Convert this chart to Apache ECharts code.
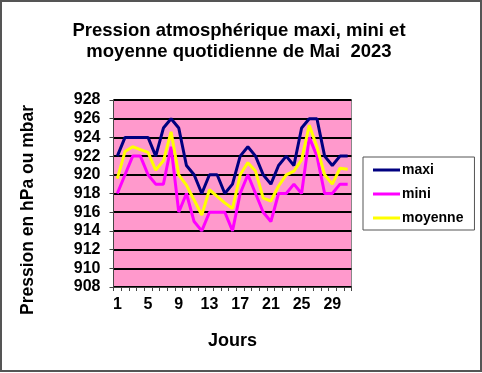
<!DOCTYPE html>
<html>
<head>
<meta charset="utf-8">
<script src="https://cdn.jsdelivr.net/npm/echarts@6/dist/echarts.min.js"></script>
<style>
html,body{margin:0;padding:0;background:#fff;}
#chart{width:482px;height:373px;}
</style>
</head>
<body>
<div id="chart"></div>
<script>
var days = [];
for (var i = 1; i <= 31; i++) days.push(String(i));
var maxi = [922,924,924,924,924,922,925,926,925,921,920,918,920,920,918,919,922,923,922,920,919,921,922,921,925,926,926,922,921,922,922];
var mini = [918,920,922,922,920,919,919,923,916,918,915,914,916,916,916,914,918,920,918,916,915,918,918,919,918,924,922,918,918,919,919];
var moyenne = [919.6,922.5,923,922.7,922.4,920.5,921.5,924.6,920,918.9,917.3,915.7,918.4,917.7,917,916.4,920,921.3,920.4,917.5,917.2,918.8,920,920.4,921.6,925.3,923,920,919,920.7,920.6];
var yMin = 908, yMax = 928, yStep = 2;

var chart = echarts.init(document.getElementById('chart'), null, {renderer:'canvas'});
var font = 'Liberation Sans, Arial, sans-serif';
chart.setOption({
  animation: false,
  backgroundColor: '#ffffff',
  title: {
    text: 'Pression atmosphérique maxi, mini et\nmoyenne quotidienne de Mai  2023',
    left: 234, top: 15, textAlign: 'center',
    textStyle: {fontFamily: font, fontWeight: 'bold', fontSize: 18.5, lineHeight: 21, color: '#000'}
  },
  legend: {
    orient: 'vertical', left: 363, top: 157,
    padding: [6, 11, 5, 10],
    borderColor: '#555', borderWidth: 1,
    icon: 'rect', itemWidth: 27, itemHeight: 3, itemGap: 10,
    textStyle: {fontFamily: font, fontWeight: 'bold', fontSize: 14, color: '#000', padding: [0,0,0,-3], lineHeight: 14},
    data: ['maxi','mini','moyenne']
  },
  grid: {
    left: 113.5, right: 130.5, top: 100, bottom: 86,
    show: true, backgroundColor: '#FF99CC', borderColor: '#888', borderWidth: 1
  },
  xAxis: {
    type: 'category', data: days, boundaryGap: true,
    name: 'Jours', nameLocation: 'middle', nameGap: 45,
    nameTextStyle: {fontFamily: font, fontWeight: 'bold', fontSize: 18, color: '#000'},
    axisLine: {lineStyle: {color: '#444', width: 1}},
    axisTick: {show: true, interval: 0, length: 4, lineStyle: {color: '#444'}},
    axisLabel: {interval: 3, margin: 10, fontFamily: font, fontWeight: 'bold', fontSize: 16, color: '#000'},
    splitLine: {show: false}
  },
  yAxis: {
    type: 'value', min: yMin, max: yMax, interval: yStep,
    axisLine: {show: true, lineStyle: {color: '#444', width: 1}},
    axisTick: {show: true, length: 4, lineStyle: {color: '#444'}},
    axisLabel: {margin: 13, fontFamily: font, fontWeight: 'bold', fontSize: 16, color: '#000'},
    splitLine: {show: true, lineStyle: {color: '#000', width: 2}}
  },
  graphic: [
    {type: 'rect', shape: {x: 1, y: 1, width: 480, height: 370}, style: {fill: 'none', stroke: '#555', lineWidth: 2}, silent: true},
    {type: 'text', x: 28, y: 210, rotation: Math.PI/2, style: {text: 'Pression en hPa ou mbar', fontFamily: font, fontWeight: 'bold', fontSize: 17.5, fill: '#000', align: 'center', verticalAlign: 'middle'}}
  ],
  series: [
    {name: 'maxi', type: 'line', data: maxi, symbol: 'none', lineStyle: {width: 3, color: '#000080'}, itemStyle: {color: '#000080'}},
    {name: 'mini', type: 'line', data: mini, symbol: 'none', lineStyle: {width: 3, color: '#FF00FF'}, itemStyle: {color: '#FF00FF'}},
    {name: 'moyenne', type: 'line', data: moyenne, symbol: 'none', lineStyle: {width: 3, color: '#FFFF00'}, itemStyle: {color: '#FFFF00'}}
  ]
});
</script>
</body>
</html>
